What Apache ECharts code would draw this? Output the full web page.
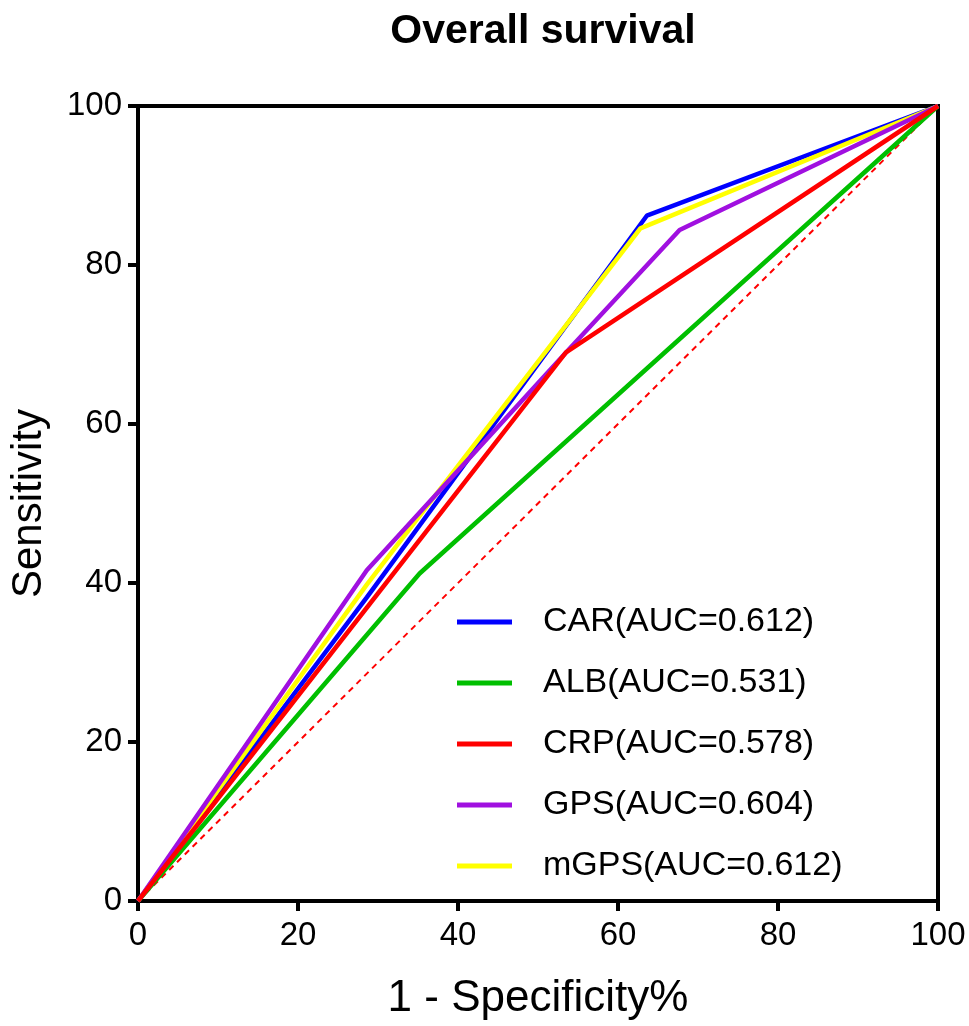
<!DOCTYPE html>
<html lang="en">
<head>
    <meta charset="UTF-8">
    <title>Overall survival</title>
    <script src="https://cdn.jsdelivr.net/npm/echarts@6/dist/echarts.min.js"></script>
    <style>
        html, body { margin: 0; padding: 0; background: #fff; }
        #main { width: 969px; height: 1026px; }
    </style>
</head>
<body>
<div id="main"></div>
<script>
    // ROC curve points [1 - specificity %, sensitivity %]
    var carPts  = [[0, 0], [28.6, 38.2], [63.6, 86.2], [100, 100]];
    var albPts  = [[0, 0], [35.2, 41.2], [100, 100]];
    var crpPts  = [[0, 0], [53.5, 69.0], [100, 100]];
    var gpsPts  = [[0, 0], [28.6, 41.6], [53.5, 69.0], [67.7, 84.4], [100, 100]];
    var mgpsPts = [[0, 0], [28.6, 39.8], [62.8, 84.6], [100, 100]];
    var refPts  = [[0, 0], [100, 100]];

    var names = ['CAR(AUC=0.612)', 'ALB(AUC=0.531)', 'CRP(AUC=0.578)', 'GPS(AUC=0.604)', 'mGPS(AUC=0.612)'];

    var font = 'Liberation Sans, Arial, sans-serif';

    function curve(name, data, color, z) {
        return {
            name: name,
            type: 'line',
            data: data,
            symbol: 'none',
            z: z,
            lineStyle: { color: color, width: 4.5 },
            itemStyle: { color: color }
        };
    }

    var myChart = echarts.init(document.getElementById('main'));

    var option = {
        animation: false,
        backgroundColor: '#fff',
        title: {
            text: 'Overall survival',
            left: 538,
            top: 6,
            textAlign: 'center',
            textStyle: { fontFamily: font, fontSize: 41, fontWeight: 'bold', color: '#000' }
        },
        legend: {
            orient: 'vertical',
            left: 457,
            top: 604,
            padding: 0,
            itemWidth: 55,
            itemHeight: 5,
            itemGap: 25,
            icon: 'rect',
            data: names,
            textStyle: {
                fontFamily: font, fontSize: 34, color: '#000',
                lineHeight: 36, padding: [0, 0, 0, 26]
            }
        },
        grid: {
            left: 138, top: 106, width: 800, height: 800,
            show: true, borderColor: '#000', borderWidth: 4,
            containLabel: false
        },
        xAxis: {
            type: 'value',
            min: 0, max: 100, interval: 20,
            name: '1 - Specificity%',
            nameLocation: 'middle',
            nameGap: 76,
            nameTextStyle: { fontFamily: font, fontSize: 44, color: '#000' },
            axisLine: { show: true, onZero: false, lineStyle: { color: '#000', width: 4 } },
            axisTick: { show: true, length: 10, lineStyle: { color: '#000', width: 4 } },
            axisLabel: { fontFamily: font, fontSize: 33, color: '#000', margin: 18 },
            splitLine: { show: false }
        },
        yAxis: {
            type: 'value',
            min: 0, max: 100, interval: 20,
            name: 'Sensitivity',
            nameLocation: 'middle',
            nameGap: 88,
            nameTextStyle: { fontFamily: font, fontSize: 42, color: '#000' },
            axisLine: { show: true, onZero: false, lineStyle: { color: '#000', width: 4 } },
            axisTick: { show: true, length: 10, lineStyle: { color: '#000', width: 4 } },
            axisLabel: { fontFamily: font, fontSize: 33, color: '#000', margin: 16 },
            splitLine: { show: false }
        },
        series: [
            {
                name: 'ref',
                type: 'line',
                data: refPts,
                symbol: 'none',
                z: 1,
                lineStyle: { color: '#ff0000', width: 2, type: [6, 5] }
            },
            curve(names[1], albPts, '#00bf00', 2),
            curve(names[0], carPts, '#0000ff', 3),
            curve(names[4], mgpsPts, '#ffff00', 4),
            curve(names[3], gpsPts, '#a010e0', 5),
            curve(names[2], crpPts, '#ff0000', 6)
        ]
    };

    myChart.setOption(option);
</script>
</body>
</html>
